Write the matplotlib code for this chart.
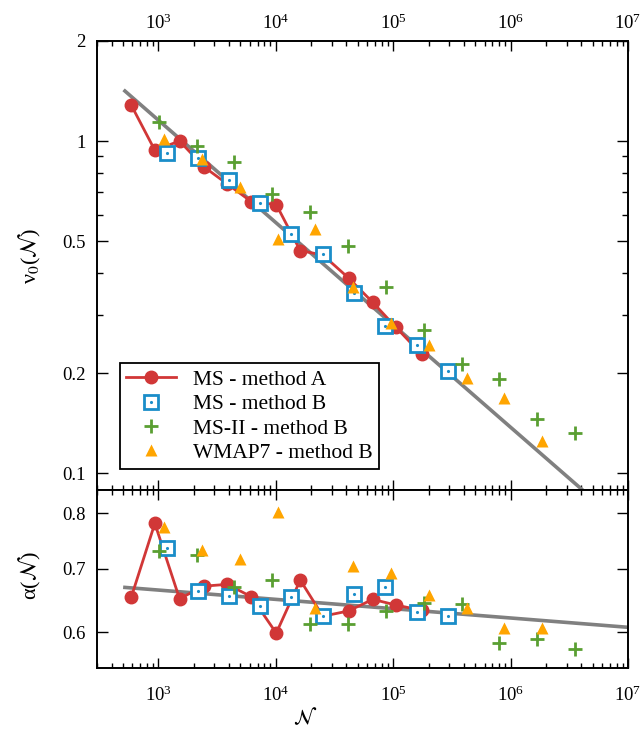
import matplotlib
matplotlib.use("Agg")
import matplotlib.pyplot as plt
from matplotlib.ticker import FixedLocator, NullFormatter, FuncFormatter, LogLocator, NullLocator
from matplotlib.legend_handler import HandlerTuple

plt.rcParams['font.family'] = ['Liberation Serif', 'DejaVu Serif']
plt.rcParams['mathtext.fontset'] = 'stix'

# MS - method A
n_a = [589, 933, 1514, 2436, 3872, 6194, 10090, 16150, 25180, 41700, 66950, 105700, 174500]
v0_a = [1.28, 0.938, 1.0, 0.837, 0.742, 0.657, 0.644, 0.468, 0.454, 0.387, 0.327, 0.275, 0.228]
alpha_a = [0.654, 0.781, 0.651, 0.671, 0.674, 0.654, 0.599, 0.681, 0.624, 0.632, 0.650, 0.641, 0.633]

# MS - method B
n_b = [1174, 2166, 3972, 7384, 13540, 25180, 46440, 85190, 158400, 290400]
v0_b = [0.918, 0.891, 0.762, 0.650, 0.525, 0.457, 0.348, 0.2776, 0.243, 0.2036]
alpha_b = [0.735, 0.664, 0.655, 0.640, 0.654, 0.624, 0.658, 0.670, 0.630, 0.625]

# MS-II - method B
n_ms2 = [1010, 2112, 4436, 9284, 19640, 41060, 86900, 182700, 382000, 797200, 1676000, 3509000]
v0_ms2 = [1.138, 0.968, 0.866, 0.691, 0.613, 0.484, 0.364, 0.270, 0.214, 0.192, 0.146, 0.132]
alpha_ms2 = [0.731, 0.723, 0.669, 0.681, 0.612, 0.613, 0.632, 0.644, 0.642, 0.585, 0.591, 0.576]

# WMAP7 - method B
n_w7 = [1114, 2342, 4925, 10360, 21780, 45810, 96400, 201500, 421200, 879700, 1849000]
v0_w7 = [1.014, 0.881, 0.729, 0.507, 0.5435, 0.364, 0.284, 0.243, 0.194, 0.169, 0.125]
alpha_w7 = [0.7745, 0.732, 0.717, 0.802, 0.637, 0.705, 0.693, 0.657, 0.636, 0.606, 0.606]

# power-law fits (straight lines in log-log)
fit_n = [519, 1e7]
fit_v0 = [1.414, 0.0677]
fit_alpha = [0.669, 0.6075]

red = '#d13737'
blue = '#1a8dc9'
green = '#5a9f32'
orange = '#ffa500'
grey = '#808080'

fig = plt.figure(figsize=(6.44, 7.33), dpi=100)
ax1 = fig.add_axes([0.1506, 0.3315, 0.8246, 0.6126])
ax2 = fig.add_axes([0.1506, 0.0887, 0.8246, 0.2428], sharex=ax1)


def draw(ax, ya, yb, yms2, yw7, yfit):
    ax.plot(fit_n, yfit, color=grey, lw=2.6, zorder=2)
    la, = ax.plot(n_a, ya, '-o', color=red, lw=2.0, ms=9, zorder=3)
    lb, = ax.plot(n_b, yb, 's', mfc='white', mec=blue, mew=2.0, ms=9.5, zorder=4)
    lbd, = ax.plot(n_b, yb, '.', color=blue, ms=2.5, zorder=5)
    lg, = ax.plot(n_ms2, yms2, '+', color=green, mew=2.0, ms=10, zorder=5)
    lw, = ax.plot(n_w7, yw7, '^', color=orange, mec='none', ms=9, zorder=6)
    return la, (lb, lbd), lg, lw


handles = draw(ax1, v0_a, v0_b, v0_ms2, v0_w7, fit_v0)
draw(ax2, alpha_a, alpha_b, alpha_ms2, alpha_w7, fit_alpha)

for ax in (ax1, ax2):
    ax.set_xscale('log')
    ax.set_yscale('log')
    for s in ax.spines.values():
        s.set_linewidth(1.4)
    ax.tick_params(which='both', direction='in', top=True, right=True, width=1.0, labelsize=13.5)
    ax.tick_params(axis='x', which='major', length=7)
    ax.tick_params(axis='x', which='minor', length=3.5)
    ax.tick_params(axis='y', which='major', length=8, pad=8)
    ax.tick_params(axis='y', which='minor', length=4.5)

ax1.set_xlim(300, 1e7)
ax1.xaxis.set_major_locator(LogLocator(base=10, numticks=10))
ax1.xaxis.set_minor_locator(LogLocator(base=10, subs=range(2, 10), numticks=20))
ax1.xaxis.set_minor_formatter(NullFormatter())

ax1.set_ylim(0.0891, 2.0)
ax1.yaxis.set_major_locator(FixedLocator([0.1, 0.2, 0.5, 1, 2]))
ax1.yaxis.set_minor_locator(FixedLocator([0.3, 0.4, 0.6, 0.7, 0.8, 0.9]))
ax1.yaxis.set_major_formatter(FuncFormatter(lambda v, _: f'{v:g}'))
ax1.yaxis.set_minor_formatter(NullFormatter())
ax1.tick_params(axis='x', which='major', labeltop=True, labelbottom=False, pad=6)

ax2.set_ylim(0.5506, 0.8466)
ax2.yaxis.set_major_locator(FixedLocator([0.6, 0.7, 0.8]))
ax2.yaxis.set_minor_locator(NullLocator())
ax2.yaxis.set_major_formatter(FuncFormatter(lambda v, _: f'{v:g}'))
ax2.tick_params(axis='x', which='major', labeltop=False, labelbottom=True, pad=13)

fig.text(30 / 644, 1 - 256 / 733, 'ν$_0$($\\mathcal{N}$)', rotation=90, ha='center', va='center', fontsize=16)
fig.text(30 / 644, 1 - 576 / 733, 'α($\\mathcal{N}$)', rotation=90, ha='center', va='center', fontsize=16)
fig.text(305 / 644, 1 - 718 / 733, '$\\mathcal{N}$', ha='center', va='center', fontsize=15)

leg = ax1.legend(handles, ['MS - method A', 'MS - method B', 'MS-II - method B', 'WMAP7 - method B'],
                 handler_map={tuple: HandlerTuple(ndivide=1)},
                 loc='upper left', bbox_to_anchor=(0.0433, 0.2822), borderaxespad=0,
                 fontsize=15.5, numpoints=1, handlelength=2.3, handletextpad=0.8,
                 labelspacing=0.2, borderpad=0.3, fancybox=False, framealpha=1)
leg.get_frame().set_edgecolor('black')
leg.get_frame().set_linewidth(1.3)

fig.savefig('out.png', dpi=100)
